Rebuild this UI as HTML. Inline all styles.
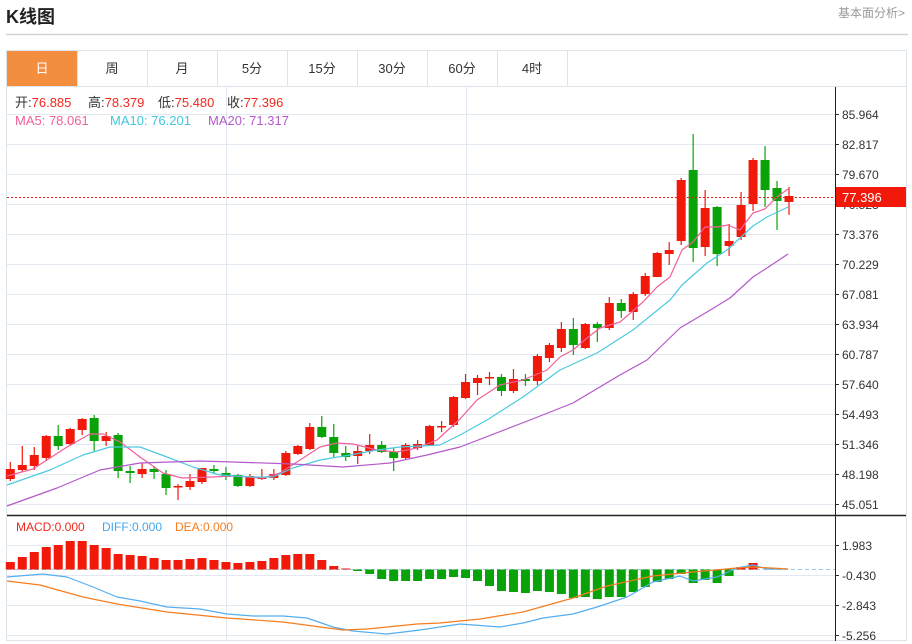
<!DOCTYPE html>
<html><head><meta charset="utf-8"><style>
body{margin:0;background:#fff;width:912px;height:644px;overflow:hidden;font-family:"Liberation Sans","Noto Sans CJK SC",sans-serif;}
svg{position:absolute;left:0;top:0}
</style></head><body>
<svg id="s" width="912" height="644" xmlns="http://www.w3.org/2000/svg" font-family="Liberation Sans, Noto Sans CJK SC, sans-serif">
<text x="6" y="23" font-size="18" font-weight="bold" fill="#222">K线图</text>
<text x="838" y="17" font-size="12" fill="#999">基本面分析&gt;</text>
<line x1="6" y1="34.5" x2="908" y2="34.5" stroke="#d5d5d5" stroke-width="1.5"/>
<rect x="6.5" y="50.5" width="900" height="590" fill="none" stroke="#dde3ea"/>
<line x1="6" y1="86.5" x2="907" y2="86.5" stroke="#dde3ea"/>
<rect x="7" y="51" width="70" height="35" fill="#f38e3f"/>
<g id="tabs" font-size="13" fill="#333" text-anchor="middle"></g>
<g id="grid"></g>
<g id="plot"></g>
<text x="15" y="107" font-size="13" fill="#333">开:<tspan fill="#f0281e">76.885</tspan></text>
<text x="88" y="107" font-size="13" fill="#333">高:<tspan fill="#f0281e">78.379</tspan></text>
<text x="158" y="107" font-size="13" fill="#333">低:<tspan fill="#f0281e">75.480</tspan></text>
<text x="227" y="107" font-size="13" fill="#333">收:<tspan fill="#f0281e">77.396</tspan></text>
<text x="15" y="125" font-size="13" fill="#f0609a">MA5: 78.061</text>
<text x="110" y="125" font-size="13" fill="#3fc8e0">MA10: 76.201</text>
<text x="208" y="125" font-size="13" fill="#b459c9">MA20: 71.317</text>
<text x="16" y="531" font-size="12" fill="#f0281e">MACD:0.000</text>
<text x="102" y="531" font-size="12" fill="#44a6ee">DIFF:0.000</text>
<text x="175" y="531" font-size="12" fill="#f57d1e">DEA:0.000</text>
</svg>
<script>
const NS="http://www.w3.org/2000/svg";
function el(p,t,a,txt){const e=document.createElementNS(NS,t);for(const k in a)e.setAttribute(k,a[k]);if(txt!==undefined)e.textContent=txt;document.getElementById(p).appendChild(e);return e;}
const tabs=["日","周","月","5分","15分","30分","60分","4时"];
tabs.forEach((t,i)=>{const x=7+70*i;el("tabs","text",{x:x+35,y:73,fill:i==0?"#fff":"#333"},t);el("tabs","line",{x1:x+70.5,y1:51,x2:x+70.5,y2:86,stroke:"#dde3ea"});});
const plab=["85.964","82.817","79.670","76.523","73.376","70.229","67.081","63.934","60.787","57.640","54.493","51.346","48.198","45.051"];
plab.forEach((l,i)=>{const y=114+30*i+0.5;el("grid","line",{x1:7,y1:y,x2:835,y2:y,stroke:"#e3e9f0"});el("grid","line",{x1:835,y1:y,x2:839,y2:y,stroke:"#333"});el("grid","text",{x:842,y:y+4.5,"font-size":12,fill:"#333"},l);});
const mlab=["1.983","-0.430","-2.843","-5.256"];
mlab.forEach((l,i)=>{const y=545+30*i+0.5;el("grid","line",{x1:7,y1:y,x2:835,y2:y,stroke:"#e3e9f0"});el("grid","line",{x1:835,y1:y,x2:839,y2:y,stroke:"#333"});el("grid","text",{x:842,y:y+4.5,"font-size":12,fill:"#333"},l);});
[226.5,466.5].forEach(x=>el("grid","line",{x1:x,y1:87,x2:x,y2:640,stroke:"#e3e9f0"}));
el("grid","line",{x1:835.5,y1:87,x2:835.5,y2:641,stroke:"#222"});
el("grid","line",{x1:7,y1:515.5,x2:906,y2:515.5,stroke:"#222","stroke-width":1.5});
const R="#f0190a",G="#09a309";
const C=[[R,469,479,462,481],[R,465,470,446,472],[R,455,466,447,470],[R,436,458,435,461],[G,436,446,425,450],[R,429,444,428,446],[R,419,430,418,435],[G,418,441,415,451],[R,436,441,432,446],[G,435,471,433,478],[G,471,473,466,483],[R,469,474,463,478],[G,469,472,466,479],[G,474,488,470,495],[R,486,487,484,500],[R,481,487,474,490],[R,468,482,468,484],[G,469,471,465,474],[G,473,477,467,480],[G,475,486,474,487],[R,476,486,474,487],[R,477,479,469,480],[R,474,478,469,480],[R,453,475,451,476],[R,446,454,445,455],[R,427,449,423,450],[G,427,437,416,438],[G,437,453,424,457],[G,453,457,446,461],[R,451,456,446,464],[R,445,451,434,454],[G,445,452,441,453],[G,452,458,448,471],[R,445,458,443,460],[R,444,448,440,450],[R,426,445,425,446],[R,426,427,421,432],[R,397,425,396,427],[R,382,398,374,399],[R,378,383,375,395],[R,377,378,372,385],[G,377,391,374,396],[R,379,391,369,393],[G,379,381,374,386],[R,356,381,354,385],[R,345,358,343,362],[R,329,348,322,352],[G,329,345,318,355],[R,324,348,323,349],[G,324,328,322,342],[R,303,328,297,330],[G,303,311,299,318],[R,294,312,292,320],[R,276,294,273,296],[R,253,277,252,277],[R,250,254,242,265],[R,180,241,178,245],[G,170,248,134,262],[R,208,247,190,256],[G,207,254,206,266],[R,241,246,224,256],[R,205,237,192,240],[R,160,204,158,211],[G,160,190,146,207],[G,188,201,181,230],[R,196,202,187,215]];
const X=i=>10.3+11.98*i;
function poly(pts,col,w){el("plot","polyline",{points:pts.map(p=>p.join(",")).join(" "),fill:"none",stroke:col,"stroke-width":w||1.2,"stroke-linejoin":"round"});}
el("plot","line",{x1:7,y1:569.5,x2:835,y2:569.5,stroke:"#9cc8e8","stroke-dasharray":"4,3"});
const tops=[562,557,552,547,545,541,541,545,548,554,555,556,558,560,560,559,558,560,562,563,562,561,558,555,554,554,560,566,568.5];
const gb=[571,574,579,581,581,581,579,579,577,578,581,586,591,592,593,591,592,594,598,597,599,597,597,592,587,582,579,574,583,580,583,576];
for(let i=0;i<66;i++){const x=X(i)-4.5;
 if(i<29){el("plot","rect",{x:x,y:tops[i],width:9,height:569.5-tops[i],fill:R});}
 else if(i<61){const b=gb[i-29];el("plot","rect",{x:x,y:569.5,width:9,height:b-569.5,fill:G});}
 else if(i==61){el("plot","rect",{x:x,y:567,width:9,height:2.5,fill:R});}
 else if(i==62){el("plot","rect",{x:x,y:563,width:9,height:6.5,fill:R});}
}
poly([[7,577],[43,574],[67,577],[93,587],[117,597],[140,601],[167,607],[200,609],[227,614],[253,616],[283,616],[307,618],[333,627],[353,631],[387,634],[420,630],[440,627],[460,624],[500,627],[523,623],[543,618],[573,614],[597,607],[627,597],[653,582],[680,576],[693,581],[717,577],[737,568],[753,565],[767,569],[788,569]],"#55aef0",1.2);
poly([[7,581],[40,585],[83,597],[117,604],[167,612],[227,618],[283,622],[343,630],[367,629],[417,624],[440,623],[480,619],[523,612],[573,598],[607,586],[653,576],[693,572],[737,568],[753,567],[788,569]],"#f57d1e",1.2);
C.forEach((c,i)=>{const x=X(i);el("plot","line",{x1:x,y1:c[3],x2:x,y2:c[4],stroke:c[0],"stroke-width":1.2});el("plot","rect",{x:x-4.5,y:c[1],width:9,height:Math.max(1.5,c[2]-c[1]),fill:c[0]});});
poly([[7,476],[33,469],[67,447],[90,434],[103,434],[120,442],[140,457],[163,473],[182,478],[213,477],[233,476],[263,478],[280,473],[300,460],[320,447],[337,443],[353,444],[377,450],[397,452],[417,448],[437,440],[460,419],[477,400],[500,385],[523,380],[547,370],[560,357],[573,350],[587,338],[600,328],[620,322],[643,302],[657,287],[670,277],[682,250],[693,242],[705,227],[717,227],[728,225],[740,230],[753,213],[765,209],[777,197],[788,189]],"#f0609a",1.2);
poly([[7,485],[50,470],[83,455],[110,447],[140,447],[167,457],[193,467],[220,475],[253,477],[273,477],[293,468],[320,460],[350,455],[377,450],[400,447],[440,445],[460,435],[487,420],[523,397],[560,370],[597,353],[633,330],[670,300],[682,285],[707,263],[727,250],[740,238],[753,226],[767,217],[788,207]],"#4cc9e0",1.2);
poly([[7,506],[57,488],[100,470],[140,463],[200,461],[233,462],[293,464],[343,467],[390,463],[427,455],[460,447],[530,420],[573,403],[620,375],[647,360],[680,328],[707,312],[730,298],[753,277],[767,268],[788,254]],"#b459c9",1.2);
el("plot","line",{x1:7,y1:197.5,x2:835,y2:197.5,stroke:"#f0190a","stroke-dasharray":"2,2"});
el("plot","rect",{x:836,y:187,width:70,height:20,fill:"#f0190a"});
el("plot","text",{x:842,y:202,"font-size":13,fill:"#fff"},"77.396");
</script>
</body></html>
